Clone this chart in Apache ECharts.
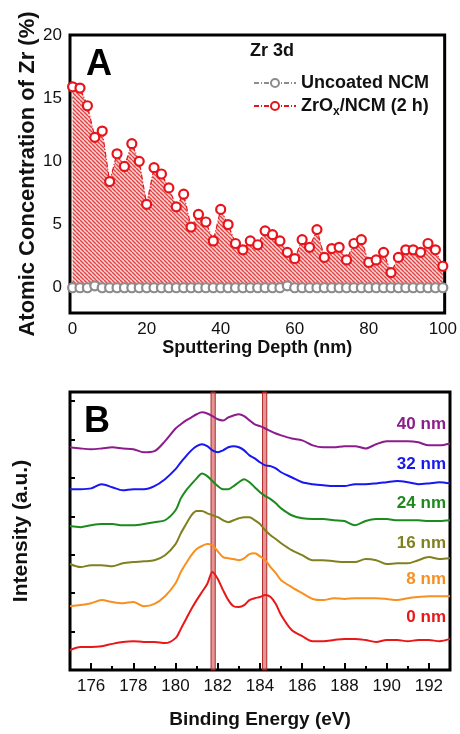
<!DOCTYPE html>
<html><head><meta charset="utf-8">
<script src="https://cdn.jsdelivr.net/npm/echarts@6/dist/echarts.min.js"></script>
<style>html,body{margin:0;padding:0;background:#fff}#c{width:460px;height:734px}</style>
</head><body><div id="c"></div>
<script>
// ---------- Panel A data ----------
const depth = [0,2,4,6,8,10,12,14,16,18,20,22,24,26,28,30,32,34,36,38,40,42,44,46,48,50,52,54,56,58,60,62,64,66,68,70,72,74,76,78,80,82,84,86,88,90,92,94,96,98,100];
const zrCoated = [15.9,15.8,14.4,11.9,12.4,8.4,10.6,9.6,11.4,10.0,6.6,9.5,9.0,7.9,6.4,7.4,4.8,5.8,5.2,3.7,6.2,5.0,3.5,3.0,3.7,3.4,4.5,4.2,3.7,2.8,2.3,3.8,3.2,4.6,2.4,3.1,3.2,2.2,3.5,3.8,2.0,2.2,2.8,1.2,2.4,3.0,3.0,2.8,3.5,3.0,1.7];
const zrUncoated = [0,0,0,0.15,0,0,0,0,0,0,0,0,0,0,0,0,0,0,0,0,0,0,0,0,0,0,0,0,0,0.15,0,0,0,0,0,0,0,0,0,0,0,0,0,0,0,0,0,0,0,0,0];
const depthTicks = [0,20,40,60,80,100];
const depthMinor = [10,30,50,70,90];
const concTicks = [0,5,10,15,20];

// ---------- Panel B data ----------
const energy = [175,175.5,176,176.5,177,177.5,178,178.5,179,179.5,180,180.25,180.5,180.75,181,181.25,181.5,181.75,182,182.25,182.5,182.75,183,183.25,183.5,183.75,184,184.25,184.5,184.75,185,185.5,186,186.5,187,187.5,188,188.5,189,189.5,190,190.5,191,191.5,192,192.5,193];
const nm40 = [58.0,57.7,57.5,57.7,58.0,57.7,57.5,56.7,57.0,59.6,62.9,64.0,65.0,65.8,66.6,67.1,66.8,66.1,65.3,65.0,65.8,66.3,66.6,66.1,65.0,64.0,63.5,62.9,62.2,61.6,61.1,60.3,59.8,58.5,58.0,58.0,58.3,58.3,57.7,58.8,59.6,59.6,59.6,59.3,58.5,58.5,59.0];
const nm32 = [47.1,47.1,47.3,48.4,47.6,46.8,47.1,47.1,47.9,49.7,52.3,54.1,55.7,57.2,58.3,58.8,58.3,57.2,56.7,57.2,58.0,58.3,58.0,57.2,55.9,55.1,54.1,53.3,53.1,52.5,51.5,50.2,48.9,48.4,48.1,47.9,47.9,48.4,48.4,48.6,48.9,49.2,48.9,48.4,48.6,48.9,48.6];
const nm24 = [37.5,37.2,37.7,38.0,38.0,37.7,37.7,38.0,38.5,39.0,41.6,44.7,46.8,48.4,49.9,51.2,50.5,49.2,47.9,47.1,47.1,47.9,48.9,49.7,48.9,47.6,46.3,45.3,44.5,43.4,42.1,40.3,39.5,39.3,39.3,39.0,38.8,37.7,38.8,39.3,39.3,39.0,39.0,39.0,38.8,38.8,39.0];
const nm16 = [27.6,26.8,27.3,27.3,27.0,27.8,28.1,28.3,28.6,29.9,32.8,35.6,38.0,40.3,41.4,41.4,40.8,40.3,39.8,39.0,38.5,39.0,39.5,39.8,39.8,39.0,38.0,36.4,35.1,34.1,33.0,31.2,29.9,28.6,28.6,28.3,28.1,28.1,28.9,28.6,27.6,27.8,27.8,28.6,29.4,28.9,29.1];
const nm8 = [16.6,16.9,17.4,18.2,17.7,17.4,17.7,16.6,17.2,19.2,22.6,25.5,27.8,29.9,31.5,32.3,32.8,32.5,30.9,29.4,29.1,28.9,28.6,29.1,30.2,30.4,29.6,28.6,26.8,25.2,23.4,21.6,20.0,18.5,18.2,18.7,18.5,18.7,18.7,18.7,18.5,18.2,18.7,19.0,19.2,19.2,19.2];
const nm0 = [5.2,6.0,6.0,6.2,6.8,7.3,7.5,7.3,7.3,7.0,8.3,10.7,13.3,15.9,18.2,20.3,22.4,25.5,23.7,20.8,18.2,16.6,16.4,16.9,18.2,18.7,19.0,19.5,19.0,17.2,14.3,10.4,8.8,7.5,7.5,7.8,8.1,8.1,7.8,7.3,7.8,7.8,7.5,7.8,7.8,7.5,8.1];
const depthNames = ['40 nm','32 nm','24 nm','16 nm','8 nm','0 nm'];
const energyTicks = [176,178,180,182,184,186,188,190,192];
const energyMinor = [175,177,179,181,183,185,187,189,191,193];
const peakLines = [181.78, 184.22];

const FONT = 'Arial, "Liberation Sans", sans-serif';
const curves = [nm40, nm32, nm24, nm16, nm8, nm0];
const colors = ['#8c1c8c', '#1717f2', '#1d8a1d', '#80801e', '#f7901e', '#e81818'];
const labelY = [425, 465, 504, 544, 580, 618];

function makeHatch(){
  const s = 4, c = document.createElement('canvas'); c.width = s; c.height = s;
  const g = c.getContext('2d');
  g.fillStyle = '#f8d2d2'; g.fillRect(0,0,s,s);
  g.strokeStyle = '#e04646'; g.lineWidth = 1.4;
  for (let k=-1;k<=1;k++){ g.beginPath(); g.moveTo(0,k*s); g.lineTo(s,s+k*s); g.stroke(); }
  return c;
}

const chart = echarts.init(document.getElementById('c'), null, {renderer:'canvas'});
const tickStyle = {color:'#000', width:2};
const series = [
  {name:'ZrOx/NCM (2 h)', type:'line', xAxisIndex:0, yAxisIndex:0, z:3,
   data: depth.map((d,i)=>[d, zrCoated[i]]), symbol:'circle', symbolSize:9, showAllSymbol:true,
   lineStyle:{color:'#e8141c', width:1.2, type:[5,2,1,2]},
   itemStyle:{color:'#fff', borderColor:'#e8141c', borderWidth:2.2},
   areaStyle:{color:{image:makeHatch(), repeat:'repeat'}, opacity:1}},
  {name:'Uncoated NCM', type:'line', xAxisIndex:0, yAxisIndex:0, z:4,
   data: depth.map((d,i)=>[d, zrUncoated[i]]), symbol:'circle', symbolSize:9, showAllSymbol:true,
   lineStyle:{color:'#8c8c8c', width:1.2, type:[5,2,1,2]},
   itemStyle:{color:'#fff', borderColor:'#8c8c8c', borderWidth:2.2}}
];
curves.forEach((arr, k) => {
  series.push({name:depthNames[k], type:'line', xAxisIndex:1, yAxisIndex:1, z:2,
    data: energy.map((e,i)=>[e, arr[i]]), symbol:'none', smooth:0.3,
    lineStyle:{color:colors[k], width:2}});
});
series.push({type:'line', xAxisIndex:1, yAxisIndex:1, data:[], z:6,
  markArea:{silent:true, itemStyle:{color:'rgba(214,80,80,0.6)', borderColor:'rgba(170,25,25,0.9)', borderWidth:1},
    data: peakLines.map(p => [{xAxis:p-0.1},{xAxis:p+0.1}])}});

const graphics = [
  {type:'text', left:86, top:47, style:{text:'A', font:'bold 36px '+FONT, fill:'#000'}},
  {type:'text', left:84, top:404, style:{text:'B', font:'bold 36px '+FONT, fill:'#000'}},
  {type:'text', left:250, top:42, style:{text:'Zr 3d', font:'bold 18px '+FONT, fill:'#111'}}
];
depthNames.forEach((n,k)=>{
  graphics.push({type:'text', right:14, top:labelY[k]-9, style:{text:n, font:'bold 17px '+FONT, fill:colors[k]}});
});

chart.setOption({
  animation:false,
  textStyle:{fontFamily:FONT},
  grid:[
    {left:70, top:35, width:379, height:278, show:true, borderColor:'#000', borderWidth:3, backgroundColor:'transparent'},
    {left:70, top:392, width:380, height:278, show:true, borderColor:'#000', borderWidth:3, backgroundColor:'transparent'},
    {left:70, top:35, width:379, height:278},
    {left:70, top:392, width:380, height:278}
  ],
  xAxis:[
    {gridIndex:0, type:'value', min:-0.7, max:100.5, axisLine:{show:false}, splitLine:{show:false},
     axisTick:{inside:true, length:6, lineStyle:tickStyle, customValues:depthTicks},
     axisLabel:{customValues:depthTicks, fontSize:17, color:'#111', margin:8, fontFamily:FONT},
     name:'Sputtering Depth (nm)', nameLocation:'middle', nameGap:26, nameMoveOverlap:false,
     nameTextStyle:{fontSize:18, fontWeight:'bold', color:'#111', fontFamily:FONT}},
    {gridIndex:1, type:'value', min:175, max:193, axisLine:{show:false}, splitLine:{show:false},
     axisTick:{inside:true, length:7, lineStyle:tickStyle, customValues:energyTicks},
     axisLabel:{customValues:energyTicks, fontSize:17, color:'#111', margin:8, fontFamily:FONT},
     name:'Binding Energy (eV)', nameLocation:'middle', nameGap:40, nameMoveOverlap:false,
     nameTextStyle:{fontSize:19, fontWeight:'bold', color:'#111', fontFamily:FONT}},
    {gridIndex:2, type:'value', min:-0.7, max:100.5, axisLine:{show:false}, splitLine:{show:false},
     axisTick:{inside:true, length:3, lineStyle:tickStyle, customValues:depthMinor}, axisLabel:{show:false}},
    {gridIndex:3, type:'value', min:175, max:193, axisLine:{show:false}, splitLine:{show:false},
     axisTick:{inside:true, length:4, lineStyle:tickStyle, customValues:energyMinor}, axisLabel:{show:false}}
  ],
  yAxis:[
    {gridIndex:0, type:'value', min:-2, max:20, axisLine:{show:false}, splitLine:{show:false},
     axisTick:{inside:true, length:5, lineStyle:tickStyle, customValues:concTicks},
     axisLabel:{customValues:concTicks, fontSize:17, color:'#111', margin:8, fontFamily:FONT},
     name:'Atomic Concentration of Zr (%)', nameLocation:'middle', nameGap:31, nameMoveOverlap:false,
     nameTextStyle:{fontSize:22, fontWeight:'bold', color:'#111', fontFamily:FONT}},
    {gridIndex:1, type:'value', min:0, max:72.4, interval:10, axisLine:{show:false}, splitLine:{show:false},
     axisTick:{inside:true, length:5, lineStyle:tickStyle}, axisLabel:{show:false},
     name:'Intensity (a.u.)', nameLocation:'middle', nameGap:38, nameMoveOverlap:false,
     nameTextStyle:{fontSize:21, fontWeight:'bold', color:'#111', fontFamily:FONT}},
    {gridIndex:2, type:'value', show:false, min:-2, max:20},
    {gridIndex:3, type:'value', show:false, min:0, max:72.4}
  ],
  legend:{data:['Uncoated NCM','ZrOx/NCM (2 h)'], left:248, top:69, orient:'vertical',
    itemWidth:42, itemHeight:10, itemGap:5,
    textStyle:{fontSize:18, fontWeight:'bold', color:'#111', fontFamily:FONT,
      rich:{a:{fontSize:18, fontWeight:'bold', color:'#111', fontFamily:FONT},
            s:{fontSize:12, fontWeight:'bold', color:'#111', fontFamily:FONT, padding:[12,0,0,0]}}},
    formatter: n => n === 'ZrOx/NCM (2 h)' ? '{a|ZrO}{s|x}{a|/NCM (2 h)}' : n},
  series: series,
  graphic: graphics
});
</script></body></html>
